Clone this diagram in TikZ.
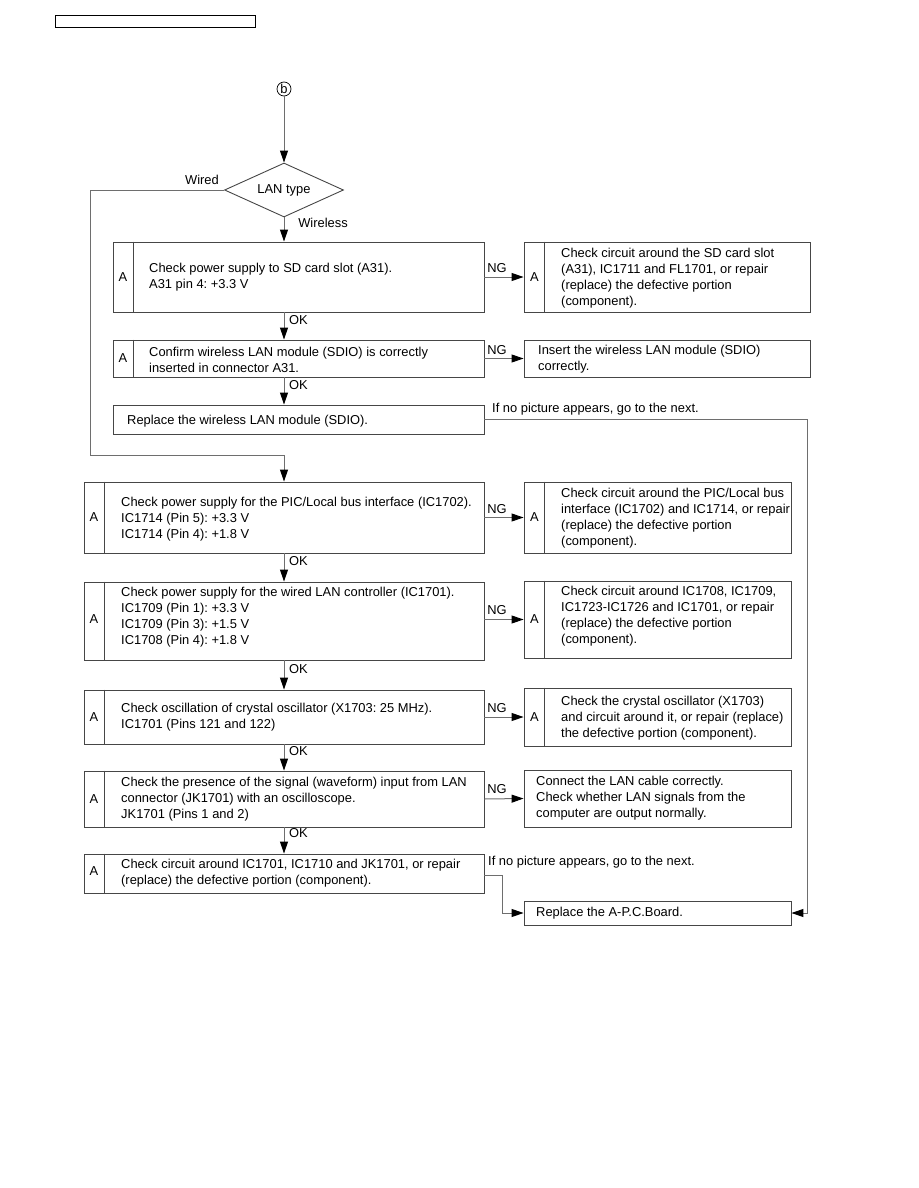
\documentclass[tikz,border=0pt]{standalone}
\usepackage{fontspec}
\setmainfont{Liberation Sans}
\usetikzlibrary{arrows.meta,shapes.geometric}
\definecolor{boxc}{RGB}{70,70,70}
\definecolor{linec}{RGB}{110,110,110}
\newcommand{\fs}{\fontsize{12.9}{16}\selectfont\frenchspacing}
\tikzset{
  box/.style={draw=boxc, line width=0.9pt, rectangle, inner sep=0pt},
  txt/.style={anchor=west, align=left, inner sep=0pt, font=\fs},
  lbl/.style={inner sep=0pt, font=\fs},
  ln/.style={draw=linec, line width=1pt},
  arr/.style={draw=linec, line width=1pt, -{Triangle[length=12pt,width=8pt,color=black]}},
  divider/.style={draw=boxc, line width=0.8pt}
}
\begin{document}
\begin{tikzpicture}[x=1pt,y=-1pt]
\useasboundingbox (0,0) rectangle (918,1188);
% header box
\node[draw=black, line width=1pt, minimum width=200pt, minimum height=12pt, inner sep=0pt] (hdr) at (155,22) {};
% start marker
\node[draw=black, circle, line width=0.7pt, minimum size=14pt, inner sep=0pt, font=\fs] (start) at (284,89) {b};
% diamond
\node[draw=boxc, line width=0.9pt, diamond, aspect=2.2, minimum width=119pt, minimum height=54pt, inner sep=0pt, font=\fs] (dia) at (284,190) {LAN type};
\node[lbl] (wired) at (202,180) {Wired};
\node[lbl] (wireless) at (323,223) {Wireless};
% left column boxes
\node[box, minimum width=371pt, minimum height=70pt] (b1) at (298.5,277) {};
\node[box, minimum width=371pt, minimum height=37pt] (b2) at (298.5,358.5) {};
\node[box, minimum width=371pt, minimum height=29pt] (b3) at (298.5,419.5) {};
\node[box, minimum width=400pt, minimum height=71pt] (b4) at (284,517.5) {};
\node[box, minimum width=400pt, minimum height=78pt] (b5) at (284,621) {};
\node[box, minimum width=400pt, minimum height=54pt] (b6) at (284,717) {};
\node[box, minimum width=400pt, minimum height=56pt] (b7) at (284,799) {};
\node[box, minimum width=400pt, minimum height=39pt] (b8) at (284,873.5) {};
% right column boxes
\node[box, minimum width=286pt, minimum height=70pt] (r1) at (667,277) {};
\node[box, minimum width=286pt, minimum height=37pt] (r2) at (667,358.5) {};
\node[box, minimum width=267pt, minimum height=71pt] (r4) at (657.5,517.5) {};
\node[box, minimum width=267pt, minimum height=77pt] (r5) at (657.5,619.5) {};
\node[box, minimum width=267pt, minimum height=58pt] (r6) at (657.5,717) {};
\node[box, minimum width=267pt, minimum height=57pt] (r7) at (657.5,798.5) {};
\node[box, minimum width=267pt, minimum height=24pt] (r8) at (657.5,913) {};
% dividers and A labels
\foreach \b in {b1,b2,b4,b5,b6,b7,b8,r1,r4,r5,r6}{
  \draw[divider] ([xshift=20.5pt]\b.north west) -- ([xshift=20.5pt]\b.south west);
}
\node[lbl] (a1) at (123,277) {A};
\node[lbl] (a2) at (123,358.5) {A};
\node[lbl] (a4) at (94,517.5) {A};
\node[lbl] (a5) at (94,619) {A};
\node[lbl] (a6) at (94,717) {A};
\node[lbl] (a7) at (94,799) {A};
\node[lbl] (a8) at (94,871.5) {A};
\node[lbl] (ar1) at (534.5,277) {A};
\node[lbl] (ar4) at (534.5,517.5) {A};
\node[lbl] (ar5) at (534.5,619) {A};
\node[lbl] (ar6) at (534.5,717) {A};
% texts
\node[txt] (t1) at (149,277) {Check power supply to SD card slot (A31).\\A31 pin 4: +3.3 V};
\node[txt] (t2) at (149,359.5) {Confirm wireless LAN module (SDIO) is correctly\\inserted in connector A31.};
\node[txt] (t3) at (127,421) {Replace the wireless LAN module (SDIO).};
\node[txt] (t4) at (121,519) {Check power supply for the PIC/Local bus interface (IC1702).\\IC1714 (Pin 5): +3.3 V\\IC1714 (Pin 4): +1.8 V};
\node[txt] (t5) at (121,617) {Check power supply for the wired LAN controller (IC1701).\\IC1709 (Pin 1): +3.3 V\\IC1709 (Pin 3): +1.5 V\\IC1708 (Pin 4): +1.8 V};
\node[txt] (t6) at (121,717) {Check oscillation of crystal oscillator (X1703: 25 MHz).\\IC1701 (Pins 121 and 122)};
\node[txt] (t7) at (121,799) {Check the presence of the signal (waveform) input from LAN\\connector (JK1701) with an oscilloscope.\\JK1701 (Pins 1 and 2)};
\node[txt] (t8) at (121,873) {Check circuit around IC1701, IC1710 and JK1701, or repair\\(replace) the defective portion (component).};
\node[txt] (tr1) at (561,278) {Check circuit around the SD card slot\\(A31), IC1711 and FL1701, or repair\\(replace) the defective portion\\(component).};
\node[txt] (tr2) at (538,359.5) {Insert the wireless LAN module (SDIO)\\correctly.};
\node[txt] (tr4) at (561,518) {Check circuit around the PIC/Local bus\\interface (IC1702) and IC1714, or repair\\(replace) the defective portion\\(component).};
\node[txt] (tr5) at (561,616) {Check circuit around IC1708, IC1709,\\IC1723-IC1726 and IC1701, or repair\\(replace) the defective portion\\(component).};
\node[txt] (tr6) at (561,718) {Check the crystal oscillator (X1703)\\and circuit around it, or repair (replace)\\the defective portion (component).};
\node[txt] (tr7) at (536,798.5) {Connect the LAN cable correctly.\\Check whether LAN signals from the\\computer are output normally.};
\node[txt] (tr8) at (536,913) {Replace the A-P.C.Board.};
% side notes
\node[txt] (n1) at (492,409) {If no picture appears, go to the next.};
\node[txt] (n2) at (488,862) {If no picture appears, go to the next.};
% OK / NG labels
\node[txt] (ok1) at (289,320) {OK};
\node[txt] (ok2) at (289,385) {OK};
\node[txt] (ok4) at (289,561) {OK};
\node[txt] (ok5) at (289,669) {OK};
\node[txt] (ok6) at (289,751) {OK};
\node[txt] (ok7) at (289,833) {OK};
\node[lbl] (ng1) at (497,268) {NG};
\node[lbl] (ng2) at (497,350) {NG};
\node[lbl] (ng4) at (497,509) {NG};
\node[lbl] (ng5) at (497,610) {NG};
\node[lbl] (ng6) at (497,708) {NG};
\node[lbl] (ng7) at (497,789) {NG};
% coordinates for loops
\coordinate (w1) at (90,455);
\coordinate (w2) at (284,455);
\coordinate (e1) at (807,420);
\coordinate (e2) at (502,875);
% connectors
\draw[arr] (start) -- (dia.north);
\draw[arr] (dia.south) -- (dia |- b1.north);
\draw[arr] (dia |- b1.south) -- (dia |- b2.north);
\draw[arr] (dia |- b2.south) -- (dia |- b3.north);
\draw[arr] (dia.west) -| (w1) -- (w2) -- (dia |- b4.north);
\draw[arr] (dia |- b4.south) -- (dia |- b5.north);
\draw[arr] (dia |- b5.south) -- (dia |- b6.north);
\draw[arr] (dia |- b6.south) -- (dia |- b7.north);
\draw[arr] (dia |- b7.south) -- (dia |- b8.north);
\draw[arr] (b1.east) -- (r1.west);
\draw[arr] (b2.east) -- (r2.west);
\draw[arr] (b4.east) -- (r4.west);
\draw[arr] (b5.east |- r5.west) -- (r5.west);
\draw[arr] (b6.east) -- (r6.west);
\draw[arr] (b7.east) -- (r7.west);
\draw[arr] (b3.east) -- (b3.east -| e1) |- (r8.east);
\draw[arr] (b8.east |- e2) -- (e2) |- (r8.west);
\end{tikzpicture}
\end{document}
